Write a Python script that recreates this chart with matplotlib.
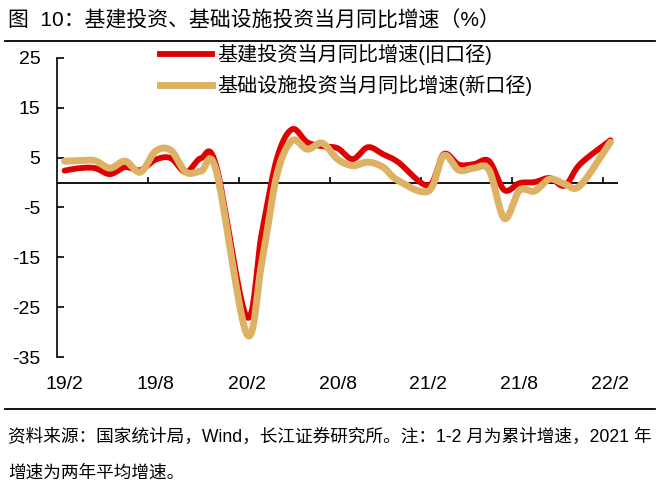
import numpy as np
import matplotlib.pyplot as plt
from matplotlib.lines import Line2D

plt.rcParams['font.family'] = ['Liberation Sans', 'Noto Sans CJK SC', 'DejaVu Sans']
plt.rcParams['axes.unicode_minus'] = False

# 月份（1月无单月数据，1-2月合并）
months = ['19/2', '19/3', '19/4', '19/5', '19/6', '19/7', '19/8', '19/9', '19/10', '19/11', '19/12',
          '20/2', '20/3', '20/4', '20/5', '20/6', '20/7', '20/8', '20/9', '20/10', '20/11', '20/12',
          '21/2', '21/3', '21/4', '21/5', '21/6', '21/7', '21/8', '21/9', '21/10', '21/11', '21/12',
          '22/2']

# 基建投资当月同比（旧口径）
old_yoy = [2.4, 2.9, 2.9, 1.7, 3.1, 2.5, 4.6, 4.9, 2.1, 4.9, 3.4,
           -26.9, -10.2, 4.8, 10.7, 8.1, 7.3, 6.9, 4.7, 7.1, 5.7, 4.1,
           -0.6, 5.7, 3.6, 3.7, 4.3, -1.5, -0.1, 0.1, 0.9, -0.6, 3.7,
           8.5]

# 基础设施投资当月同比（新口径）
new_yoy = [4.3, 4.4, 4.4, 2.9, 4.3, 2.1, 6.3, 6.5, 2.1, 2.3, 2.4,
           -30.3, -16.2, 1.5, 8.4, 6.7, 7.9, 4.7, 3.4, 4.1, 3.1, 0.4,
           -1.7, 5.4, 2.5, 2.9, 2.5, -7.2, -1.6, -1.7, 0.7, -0.3, -0.6,
           8.1]

tick_labels = ['19/2', '19/8', '20/2', '20/8', '21/2', '21/8', '22/2']
yticks = [25, 15, 5, -5, -15, -25, -35]

name_old = '基建投资当月同比增速(旧口径)'
name_new = '基础设施投资当月同比增速(新口径)'


def month_index(s):
    yy, mm = s.split('/')
    return (int(yy) - 19) * 12 + int(mm) - 2


def smooth(x, y, n=20):
    # Catmull-Rom 平滑，类似 Excel 的平滑线
    x = np.asarray(x, float)
    y = np.asarray(y, float)
    px = np.concatenate([[2 * x[0] - x[1]], x, [2 * x[-1] - x[-2]]])
    py = np.concatenate([[2 * y[0] - y[1]], y, [2 * y[-1] - y[-2]]])
    t = np.linspace(0, 1, n, endpoint=False)
    xs, ys = [], []
    for i in range(1, len(px) - 2):
        for p, out in ((px, xs), (py, ys)):
            p0, p1, p2, p3 = p[i - 1], p[i], p[i + 1], p[i + 2]
            out.extend(0.5 * (2 * p1 + (-p0 + p2) * t + (2 * p0 - 5 * p1 + 4 * p2 - p3) * t ** 2
                              + (-p0 + 3 * p1 - 3 * p2 + p3) * t ** 3))
    xs.append(x[-1])
    ys.append(y[-1])
    return np.array(xs), np.array(ys)


x = [month_index(m) for m in months]
red = '#E00000'
tan = '#DDB265'

fig = plt.figure(figsize=(6.59, 4.88), dpi=100)
ax = fig.add_axes([57 / 659, 1 - 357 / 488, 561 / 659, 299 / 488])

sx, sy = smooth(x, old_yoy)
ax.plot(sx, sy, color=red, lw=4.2, solid_capstyle='round')
sx, sy = smooth(x, new_yoy)
ax.plot(sx, sy, color=tan, lw=5.0, solid_capstyle='round')

ax.set_xlim(-0.5, 36.5)
ax.set_ylim(-35, 25)
ax.set_yticks(yticks)
ax.set_xticks([month_index(t) for t in tick_labels])
ax.set_xticklabels(tick_labels)
ax.tick_params(axis='x', length=0, labelsize=14, pad=14)
ax.tick_params(axis='y', direction='in', length=5, width=1.2, labelsize=14, pad=12)
for s in ['top', 'right', 'bottom']:
    ax.spines[s].set_visible(False)
ax.spines['left'].set_linewidth(1.2)

# 零轴及刻度
ax.axhline(0, color='black', lw=1.3, zorder=1)
ax.vlines(np.arange(5.5, 36, 6), 0, 1.2, color='black', lw=1.2, zorder=1)

handles = [Line2D([], [], color=red, lw=4.2), Line2D([], [], color=tan, lw=5.0)]
fig.legend(handles, [name_old, name_new], loc='upper left',
           bbox_to_anchor=(160 / 659, 1 - 44 / 488), frameon=False, fontsize=14.5,
           handlelength=2.6, handletextpad=0.25, labelspacing=0.45,
           borderpad=0, borderaxespad=0)

fig.text(8 / 659, 1 - 20 / 488, '图  10：基建投资、基础设施投资当月同比增速（%）',
         fontsize=15, va='center', ha='left')
fig.add_artist(Line2D([5 / 659, 655 / 659], [1 - 41 / 488] * 2, color='black', lw=1.3))
fig.add_artist(Line2D([5 / 659, 655 / 659], [1 - 409 / 488] * 2, color='black', lw=1.3))
fig.text(8 / 659, 1 - 437 / 488,
         '资料来源：国家统计局，Wind，长江证券研究所。注：1-2 月为累计增速，2021 年',
         fontsize=12.7, va='center', ha='left')
fig.text(8 / 659, 1 - 473 / 488, '增速为两年平均增速。',
         fontsize=12.7, va='center', ha='left')

fig.savefig('out.png', dpi=100)
